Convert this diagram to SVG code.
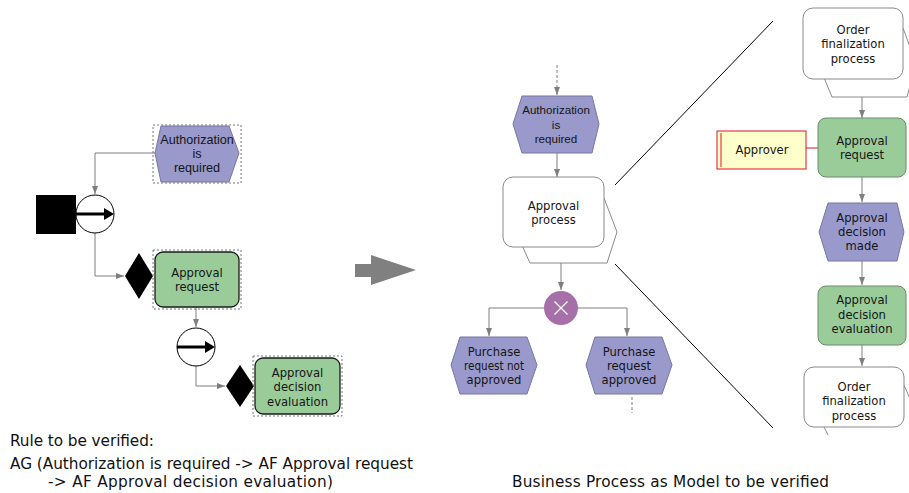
<svg xmlns="http://www.w3.org/2000/svg" width="909" height="493" viewBox="0 0 909 493">
  <defs>
    <style>
      .conn { fill: none; stroke: #7f7f7f; stroke-width: 1; marker-end: url(#ah); }
      .line { fill: none; stroke: #7f7f7f; stroke-width: 1; }
      .dash { fill: none; stroke: #7f7f7f; stroke-width: 1; stroke-dasharray: 3 2; }
      .zoomline { stroke: #000; stroke-width: 1; }
      .evt { fill: #9999cc; stroke: #7777a0; stroke-width: 1; }
      .fn { fill: #99cc99; stroke: #6c8c6c; stroke-width: 1; }
      .fnL { fill: #99cc99; stroke: #1a1a1a; stroke-width: 1.3; }
      .proc { fill: #fff; stroke: #8a8a8a; stroke-width: 1; }
      .shadow { fill: #fff; stroke: #8a8a8a; stroke-width: 1; }
      .sel { fill: none; stroke: #777; stroke-width: 1; stroke-dasharray: 2 2; }
      .op { fill: #fff; stroke: #000; stroke-width: 1; }
      .t { font-family: "DejaVu Sans", sans-serif; font-size: 11.6px; fill: #151515; text-anchor: middle; }
      .ta { font-family: "Liberation Sans", Arial, sans-serif; font-size: 12.6px; fill: #151515; text-anchor: middle; }
      .tam { font-family: "Liberation Sans", Arial, sans-serif; font-size: 11.6px; fill: #151515; text-anchor: middle; }
      .cap { font-family: "DejaVu Sans", sans-serif; font-size: 15.3px; fill: #111; }
    </style>
    <marker id="ah" viewBox="0 0 8 6" refX="8" refY="3" markerWidth="8" markerHeight="6" markerUnits="userSpaceOnUse" orient="auto">
      <path d="M0,0 L8,3 L0,6 z" fill="#7f7f7f"/>
    </marker>
    <clipPath id="clipBottom">
      <rect x="0" y="0" width="909" height="435"/>
    </clipPath>
  </defs>

  <!-- ===== Rule (left) ===== -->
  <g id="connectors-rule">
    <path class="conn" d="M155,153 H95 V194"/>
    <path class="conn" d="M95,233 V276 H124"/>
    <path class="conn" d="M196,307 V327"/>
    <path class="conn" d="M196,366 V386 H225"/>
  </g>

  <g id="rule-auth">
    <rect class="sel" x="153" y="125" width="88" height="58"/>
    <polygon class="evt" points="155,153 161,126 229,126 239,153 229,182 161,182"/>
    <text class="ta" x="197" y="144">Authorization</text>
    <text class="ta" x="197" y="158">is</text>
    <text class="ta" x="197" y="172">required</text>
  </g>

  <g id="rule-ag">
    <rect x="36" y="195" width="40" height="39" fill="#000"/>
    <circle class="op" cx="95" cy="214" r="19"/>
    <line x1="76" y1="214" x2="106" y2="214" stroke="#000" stroke-width="3"/>
    <polygon points="104,208 114,214 104,220" fill="#000"/>
  </g>

  <g id="rule-af1">
    <polygon points="139,253 153,276 139,299 125,276" fill="#000"/>
  </g>

  <g id="rule-approval-request">
    <rect class="sel" x="153" y="250" width="88" height="59"/>
    <rect class="fnL" x="155" y="252" width="84" height="55" rx="8"/>
    <text class="t" x="197" y="277">Approval</text>
    <text class="t" x="197" y="291">request</text>
  </g>

  <g id="rule-ax">
    <circle class="op" cx="196" cy="347" r="19"/>
    <line x1="177" y1="347" x2="207" y2="347" stroke="#000" stroke-width="3"/>
    <polygon points="205,341 215,347 205,353" fill="#000"/>
  </g>

  <g id="rule-af2">
    <polygon points="240,365 254,386 240,407 226,386" fill="#000"/>
  </g>

  <g id="rule-approval-evaluation">
    <rect class="sel" x="253" y="356" width="89" height="60"/>
    <rect class="fnL" x="255" y="358" width="85" height="56" rx="8"/>
    <text class="t" x="297.5" y="377">Approval</text>
    <text class="t" x="297.5" y="391">decision</text>
    <text class="t" x="297.5" y="406">evaluation</text>
  </g>

  <!-- transition arrow -->
  <g id="big-arrow">
    <polygon points="355,264 371,264 371,255 416,270 371,285 371,277 355,277" fill="#808080"/>
  </g>

  <!-- ===== Model (middle) ===== -->
  <g id="connectors-model">
    <path class="dash" d="M557,65 V89"/>
    <path class="conn" d="M557,88 V95"/>
    <path class="conn" d="M557,153 V177"/>
    <path class="conn" d="M561,263 V290"/>
    <path class="conn" d="M544,308 H489 V336"/>
    <path class="conn" d="M578,308 H627 V336"/>
    <path class="dash" d="M632,397 V413"/>
    <line class="zoomline" x1="615" y1="185" x2="773" y2="21"/>
    <line class="zoomline" x1="615" y1="264" x2="773" y2="428"/>
  </g>

  <g id="m-auth">
    <polygon class="evt" points="513,124 522,96 592,96 599,124 592,153 522,153"/>
    <text class="tam" x="556" y="114">Authorization</text>
    <text class="tam" x="556" y="129">is</text>
    <text class="tam" x="556" y="143">required</text>
  </g>

  <g id="m-approval-process">
    <polygon class="shadow" points="525,198 604,198 617,232 607,263 530,263 516,232"/>
    <rect class="proc" x="503" y="177" width="101" height="70" rx="10"/>
    <text class="t" x="553.5" y="210">Approval</text>
    <text class="t" x="553.5" y="224">process</text>
  </g>

  <g id="m-xor">
    <circle cx="561" cy="308" r="17" fill="#a66fa8"/>
    <path d="M554.5,301.5 L567.5,314.5 M567.5,301.5 L554.5,314.5" stroke="#fff" stroke-width="1.3"/>
  </g>

  <g id="m-not-approved">
    <polygon class="evt" points="451,365 460,337 527,337 537,365 527,394 460,394"/>
    <text class="t" x="494" y="356">Purchase</text>
    <text class="t" x="494" y="370" textLength="60" lengthAdjust="spacingAndGlyphs">request not</text>
    <text class="t" x="494" y="384">approved</text>
  </g>

  <g id="m-approved">
    <polygon class="evt" points="586,365 595,337 662,337 672,365 662,394 595,394"/>
    <text class="t" x="629" y="356">Purchase</text>
    <text class="t" x="629" y="370">request</text>
    <text class="t" x="629" y="384">approved</text>
  </g>

  <!-- ===== Sub-process detail (right) ===== -->
  <g id="connectors-detail">
    <path class="conn" d="M862,97 V118"/>
    <path class="conn" d="M862,177 V202"/>
    <path class="conn" d="M862,261 V285"/>
    <path class="conn" d="M862,345 V366"/>
    <line x1="806" y1="148" x2="818" y2="148" stroke="#e0102a" stroke-width="1"/>
  </g>

  <g id="d-order-top">
    <polygon class="shadow" points="825,28 903,28 916,63 907,97 832,97 818,63"/>
    <rect class="proc" x="803" y="8" width="100" height="71" rx="10"/>
    <text class="t" x="853" y="34">Order</text>
    <text class="t" x="853" y="48">finalization</text>
    <text class="t" x="853" y="63">process</text>
  </g>

  <g id="d-approver">
    <rect x="717" y="131" width="89" height="38" fill="#ffffcc" stroke="#e0102a" stroke-width="1"/>
    <line x1="721" y1="133" x2="721" y2="167" stroke="#e0102a" stroke-width="1"/>
    <text class="t" x="762" y="154">Approver</text>
  </g>

  <g id="d-approval-request">
    <rect class="fn" x="818" y="118" width="88" height="59" rx="8"/>
    <text class="t" x="862" y="145">Approval</text>
    <text class="t" x="862" y="159">request</text>
  </g>

  <g id="d-decision-made">
    <polygon class="evt" points="819,232 828,203 897,203 904,232 897,261 828,261"/>
    <text class="t" x="862" y="222">Approval</text>
    <text class="t" x="862" y="236">decision</text>
    <text class="t" x="862" y="250">made</text>
  </g>

  <g id="d-decision-evaluation">
    <rect class="fn" x="818" y="286" width="88" height="59" rx="8"/>
    <text class="t" x="862" y="304">Approval</text>
    <text class="t" x="862" y="319">decision</text>
    <text class="t" x="862" y="333">evaluation</text>
  </g>

  <g id="d-order-bottom">
    <polygon class="shadow" clip-path="url(#clipBottom)" points="826,385 904,385 917,415 908,443 832,443 818,415"/>
    <rect class="proc" x="804" y="367" width="100" height="60" rx="10"/>
    <text class="t" x="854" y="391">Order</text>
    <text class="t" x="854" y="405">finalization</text>
    <text class="t" x="854" y="420">process</text>
  </g>

  <!-- captions -->
  <g id="captions">
    <text class="cap" x="10" y="446" textLength="144" lengthAdjust="spacing">Rule to be verified:</text>
    <text class="cap" x="10" y="469" textLength="403" lengthAdjust="spacing">AG (Authorization is required -&gt; AF Approval request</text>
    <text class="cap" x="48" y="487" textLength="285" lengthAdjust="spacing">-&gt; AF Approval decision evaluation)</text>
    <text class="cap" x="512" y="487" textLength="317" lengthAdjust="spacing">Business Process as Model to be verified</text>
  </g>
</svg>
